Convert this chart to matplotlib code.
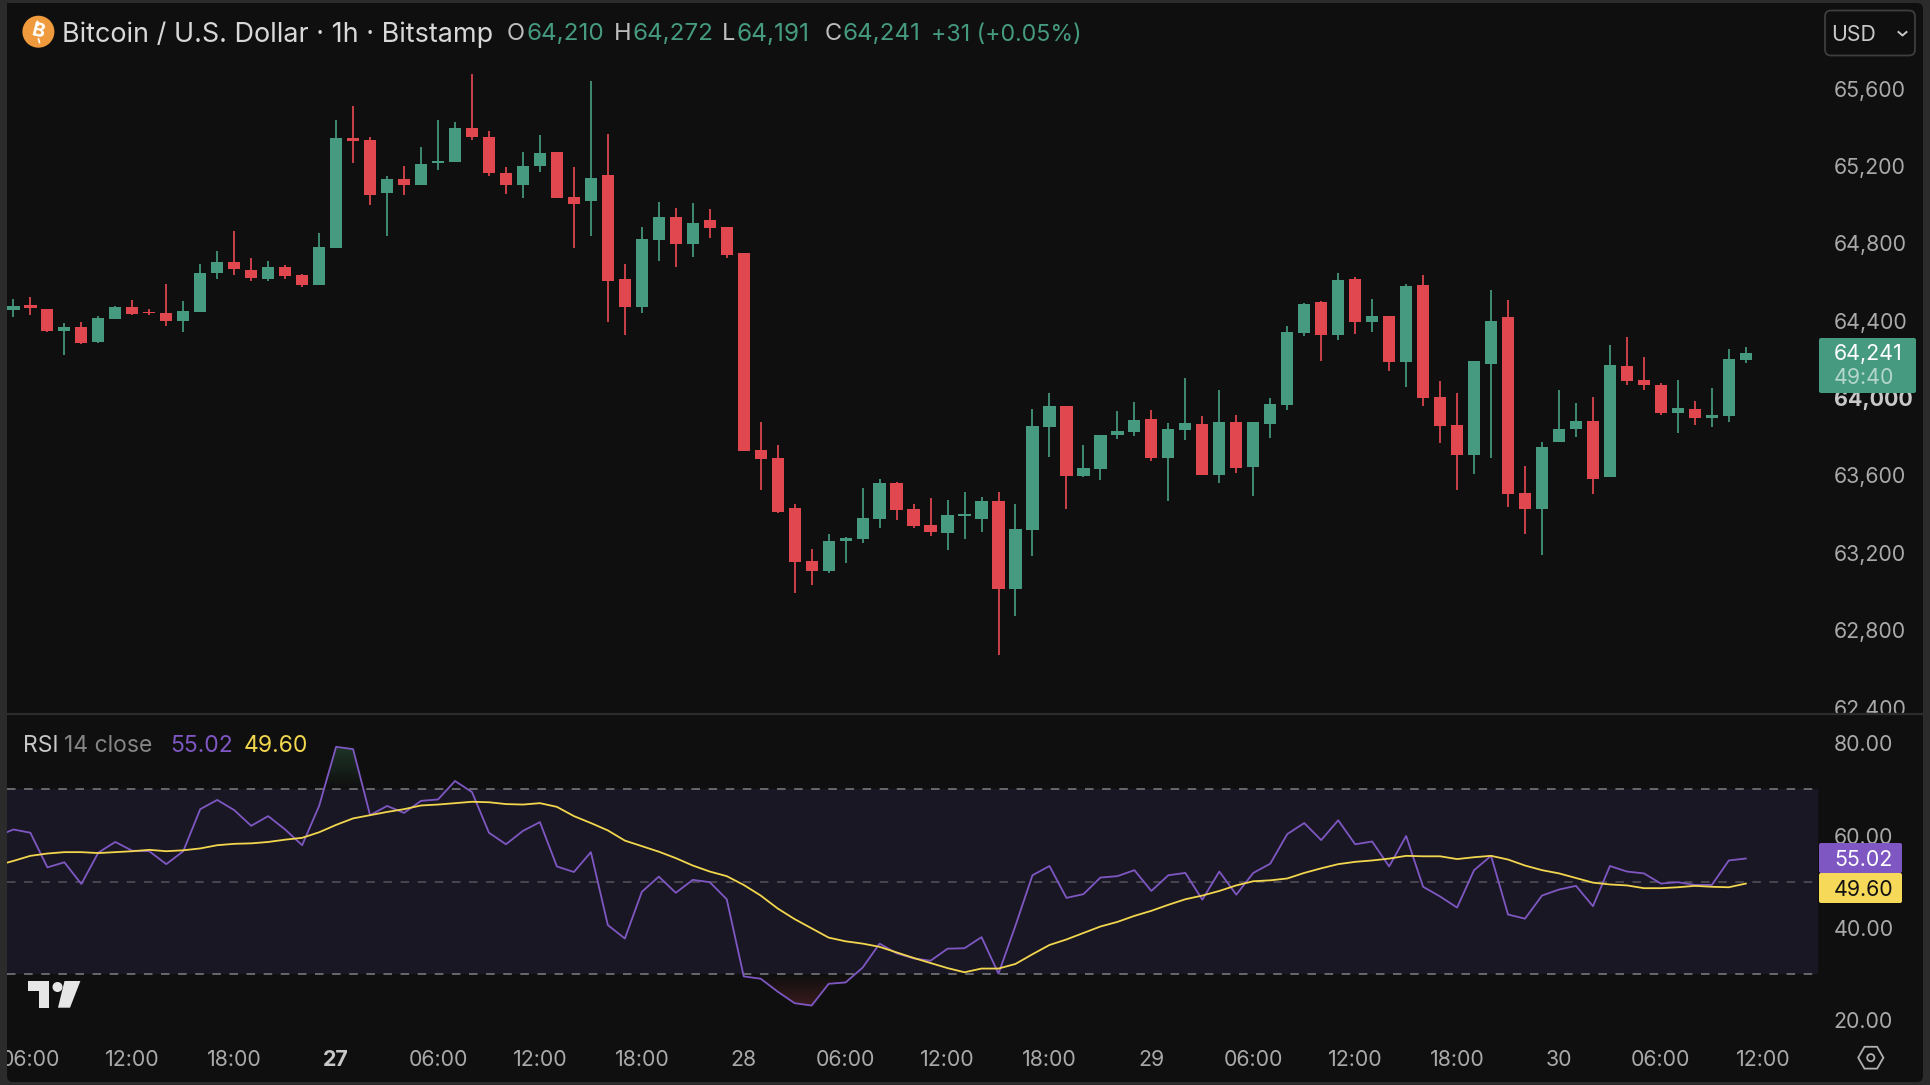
import numpy as np
import matplotlib
matplotlib.use('Agg')
import matplotlib.pyplot as plt
from matplotlib.colors import LinearSegmentedColormap
from matplotlib.patches import Circle, FancyBboxPatch, Polygon, RegularPolygon
from matplotlib.transforms import Bbox

plt.rcParams['font.family'] = ['Inter', 'DejaVu Sans']

W, H = 1930, 1085

# 1h candles (26th 05:00 to 30th 11:00)
opens = [64455, 64481, 64459, 64347, 64367, 64291, 64410, 64471, 64445, 64440, 64397, 64447, 64645,
         64703, 64662, 64617, 64676, 64634, 64586, 64777, 65342, 65332, 65062, 65132, 65103, 65217,
         65220, 65396, 65351, 65162, 65103, 65198, 65270, 65039, 65017, 65151, 64614, 64469, 64817,
         64938, 64795, 64920, 64884, 64748, 63730, 63688, 63430, 63158, 63106, 63259, 63273, 63377,
         63561, 63425, 63344, 63304, 63390, 63377, 63466, 63015, 63318, 63852, 63959, 63599, 63635,
         63811, 63826, 63892, 63690, 63835, 63864, 63604, 63878, 63645, 63866, 63966, 64338, 64495,
         64328, 64615, 64391, 64426, 64188, 64584, 64005, 63861, 63707, 64174, 64417, 63511, 63427,
         63775, 63838, 63881, 63590, 64167, 64092, 64067, 63921, 63942, 63899, 63907, 64197]
highs = [64512, 64522, 64459, 64386, 64395, 64422, 64476, 64509, 64459, 64590, 64500, 64693, 64762,
         64862, 64726, 64708, 64688, 64639, 64853, 65436, 65510, 65351, 65148, 65201, 65298, 65436,
         65429, 65673, 65379, 65193, 65274, 65360, 65270, 65193, 65641, 65365, 64693, 64884, 65015,
         64981, 65006, 64975, 64884, 64748, 63874, 63756, 63452, 63221, 63296, 63282, 63533, 63582,
         63566, 63452, 63485, 63471, 63513, 63489, 63513, 63452, 63943, 64024, 63959, 63756, 63811,
         63933, 63978, 63938, 63871, 64105, 63905, 64042, 63911, 63874, 64000, 64372, 64490, 64500,
         64648, 64626, 64510, 64426, 64590, 64636, 64086, 64028, 64192, 64557, 64507, 63647, 63771,
         64042, 63973, 64005, 64272, 64314, 64210, 64078, 64092, 63983, 64050, 64254, 64262]
lows = [64421, 64429, 64343, 64224, 64278, 64286, 64410, 64431, 64428, 64374, 64341, 64447, 64614,
        64636, 64607, 64607, 64617, 64572, 64586, 64777, 65217, 65000, 64839, 65048, 65103, 65179,
        65220, 65334, 65150, 65056, 65034, 65168, 65036, 64776, 64839, 64395, 64328, 64441, 64708,
        64676, 64731, 64829, 64726, 63725, 63526, 63408, 62991, 63035, 63096, 63146, 63249, 63327,
        63371, 63327, 63289, 63213, 63271, 63309, 62674, 62873, 63185, 63697, 63427, 63592, 63575,
        63788, 63802, 63676, 63466, 63785, 63604, 63563, 63613, 63495, 63794, 63938, 64319, 64193,
        64300, 64333, 64341, 64142, 64057, 63957, 63769, 63526, 63609, 63688, 63435, 63299, 63190,
        63775, 63799, 63504, 63590, 64069, 64043, 63911, 63821, 63861, 63849, 63878, 64183]
closes = [64476, 64464, 64347, 64367, 64286, 64414, 64471, 64436, 64438, 64397, 64450, 64648, 64703,
          64669, 64622, 64676, 64633, 64586, 64781, 65342, 65330, 65050, 65132, 65103, 65210, 65225,
          65396, 65348, 65162, 65103, 65201, 65268, 65036, 65005, 65137, 64605, 64469, 64820, 64938,
          64795, 64907, 64881, 64741, 63725, 63687, 63413, 63151, 63106, 63263, 63275, 63380, 63561,
          63423, 63340, 63309, 63394, 63399, 63466, 63015, 63321, 63856, 63959, 63599, 63637, 63811,
          63828, 63887, 63690, 63842, 63871, 63604, 63878, 63640, 63874, 63969, 64340, 64486, 64328,
          64612, 64393, 64426, 64188, 64579, 64002, 63857, 63707, 64192, 64398, 63504, 63427, 63747,
          63842, 63881, 63580, 64173, 64088, 64066, 63921, 63947, 63899, 63914, 64200, 64231]

# RSI and its average, first point is one bar before the first candle
rsi = [59.8, 61.3, 60.6, 53.1, 54.2, 49.5, 56.3, 58.6, 56.7, 56.6, 53.8, 56.6, 65.7, 67.7, 65.5, 62.1,
       64.2, 61.3, 57.9, 66.4, 79.2, 78.7, 64.4, 66.4, 64.9, 67.5, 67.8, 71.8, 69.4, 60.6, 58.1, 61.0,
       62.9, 53.3, 52.1, 56.4, 40.6, 37.7, 47.8, 51.1, 47.6, 50.4, 49.9, 46.2, 29.5, 29.0, 26.2, 23.7,
       23.2, 27.9, 28.2, 31.4, 36.6, 34.5, 33.4, 32.9, 35.5, 35.6, 38.0, 30.1, 40.5, 51.4, 53.4, 46.5,
       47.3, 50.9, 51.2, 52.5, 48.0, 51.4, 51.9, 46.1, 52.2, 47.2, 51.9, 53.9, 60.3, 62.7, 59.0, 63.3,
       58.1, 58.7, 53.3, 59.9, 48.9, 46.8, 44.4, 52.5, 55.6, 42.9, 42.0, 47.0, 48.3, 49.1, 44.7, 53.4,
       52.2, 51.8, 49.6, 49.9, 49.3, 49.3, 54.6, 55.02]
rsi_ma = [53.5, 54.5, 55.6, 56.1, 56.4, 56.4, 56.2, 56.4, 56.6, 56.9, 56.6, 56.8, 57.2, 57.9, 58.2,
          58.3, 58.6, 59.1, 59.5, 60.7, 62.3, 63.7, 64.4, 65.1, 65.7, 66.5, 66.7, 67.0, 67.3, 67.2,
          66.8, 66.7, 67.0, 66.2, 64.2, 62.7, 61.1, 58.9, 57.7, 56.5, 55.1, 53.5, 52.2, 51.2, 49.3,
          47.0, 44.2, 41.9, 39.9, 37.9, 37.1, 36.6, 35.9, 34.7, 33.5, 32.4, 31.3, 30.4, 31.2, 31.2,
          32.2, 34.3, 36.3, 37.5, 38.9, 40.3, 41.3, 42.6, 43.7, 45.0, 46.2, 47.0, 48.0, 49.2, 50.1,
          50.3, 50.7, 51.9, 52.9, 53.8, 54.3, 54.6, 55.0, 55.6, 55.5, 55.5, 54.9, 55.3, 55.6, 54.8,
          53.5, 52.5, 51.8, 50.8, 49.8, 49.4, 49.2, 48.6, 48.6, 48.8, 49.1, 48.9, 48.8, 49.60]

price_ticks = [62400, 62800, 63200, 63600, 64000, 64400, 64800, 65200, 65600]
rsi_ticks = [20, 40, 60, 80]
time_ticks = [1, 7, 13, 19, 25, 31, 37, 43, 49, 55, 61, 67, 73, 79, 85, 91, 97, 103]
time_labels = ['06:00', '12:00', '18:00', '27', '06:00', '12:00', '18:00', '28', '06:00',
               '12:00', '18:00', '29', '06:00', '12:00', '18:00', '30', '06:00', '12:00']

OUTER = '#2b2b2b'
PANEL = '#0f0f0f'
GREEN = '#459a80'
RED = '#e1474f'
PURPLE = '#7e57c2'
YELLOW = '#f2d64e'
BAND = '#1a1724'
AXIS_TEXT = '#a9a9a9'
TICK_SIZE = 15.4


def add_axes_px(left, top, right, bottom, **kw):
    return fig.add_axes([left / W, 1 - bottom / H, (right - left) / W, (bottom - top) / H], **kw)


fig = plt.figure(figsize=(W / 100, H / 100), dpi=100, facecolor=OUTER)

# panel behind everything
bg = add_axes_px(0, 0, W, H, zorder=-1)
bg.set_xlim(0, W)
bg.set_ylim(H, 0)
bg.axis('off')
bg.add_patch(FancyBboxPatch((11, 7), 1908, 1071, boxstyle='round,pad=4,rounding_size=6',
                            fc=PANEL, ec='none'))

x_left = -0.377
x_right = 106.25

# candles
ax = add_axes_px(7, 3, 1818, 714, facecolor=PANEL)
opens, highs, lows, closes = map(np.array, (opens, highs, lows, closes))
x = np.arange(len(opens))
colors = [GREEN if c >= o else RED for o, c in zip(opens, closes)]
ax.vlines(x, lows, highs, colors=colors, lw=1.25, zorder=2)
ax.bar(x, np.abs(closes - opens), bottom=np.minimum(opens, closes), width=0.72,
       color=colors, edgecolor='none', zorder=3)
ax.set_xlim(x_left, x_right)
ax.set_ylim(62367, 66042)
ax.set_xticks([])
ax.yaxis.tick_right()
ax.set_yticks(price_ticks)
ax.set_yticklabels([f'{p:,}' for p in price_ticks])
ax.tick_params(axis='y', length=0, pad=11.2, labelsize=TICK_SIZE, labelcolor=AXIS_TEXT)
price_clip = Bbox.from_extents(0, H - 714, W, H)
for lab, p in zip(ax.get_yticklabels(), price_ticks):
    lab.set_clip_on(True)
    lab.set_clip_box(price_clip)
    if p == 64000:
        lab.set_fontweight('bold')
        lab.set_color('#c8c8c8')
for s in ax.spines.values():
    s.set_visible(False)

# rsi pane
ax2 = add_axes_px(7, 714, 1818, 1035, facecolor=PANEL)
rsi = np.array(rsi)
rsi_ma = np.array(rsi_ma)
rsi_x = np.arange(-1, len(rsi) - 1)
ax2.axhspan(30, 70, color=BAND, lw=0, zorder=1)
ax2.axhline(70, color='#7f7e84', lw=1.1, ls=(0, (5.6, 5.6)), zorder=2)
ax2.axhline(50, color='#55535c', lw=1.1, ls=(0, (5.6, 5.6)), zorder=2)
ax2.axhline(30, color='#7f7e84', lw=1.1, ls=(0, (5.6, 5.6)), zorder=2)

# overbought / oversold gradient fills
grad = np.linspace(0, 1, 64).reshape(-1, 1)
cmap_up = LinearSegmentedColormap.from_list('up', [PANEL, '#20382a'])
cmap_dn = LinearSegmentedColormap.from_list('dn', ['#401d1f', PANEL])
fill_up = ax2.fill_between(rsi_x, rsi, 70, where=rsi > 70, interpolate=True, color='none')
fill_dn = ax2.fill_between(rsi_x, rsi, 30, where=rsi < 30, interpolate=True, color='none')
for path in fill_up.get_paths():
    im = ax2.imshow(grad, extent=[x_left, x_right, 70, 80], origin='lower', aspect='auto',
                    cmap=cmap_up, zorder=1.5)
    im.set_clip_path(path, ax2.transData)
for path in fill_dn.get_paths():
    im = ax2.imshow(grad, extent=[x_left, x_right, 22, 30], origin='lower', aspect='auto',
                    cmap=cmap_dn, zorder=1.5)
    im.set_clip_path(path, ax2.transData)

ax2.plot(rsi_x, rsi, color=PURPLE, lw=1.3, zorder=3)
ax2.plot(rsi_x, rsi_ma, color=YELLOW, lw=1.3, zorder=4)
ax2.set_xlim(x_left, x_right)
ax2.set_ylim(16.82, 86.3)
ax2.yaxis.tick_right()
ax2.set_yticks(rsi_ticks)
ax2.set_yticklabels([f'{v:.2f}' for v in rsi_ticks])
ax2.tick_params(axis='y', length=0, pad=11.2, labelsize=TICK_SIZE, labelcolor=AXIS_TEXT)
ax2.set_xticks(time_ticks)
ax2.set_xticklabels(time_labels)
ax2.tick_params(axis='x', length=0, pad=11, labelsize=TICK_SIZE, labelcolor=AXIS_TEXT)
time_clip = Bbox.from_extents(7, 0, W, H)
for lab, t in zip(ax2.get_xticklabels(), time_labels):
    lab.set_clip_on(True)
    lab.set_clip_box(time_clip)
    if t == '27':
        lab.set_fontweight('bold')
        lab.set_color('#c8c8c8')
for s in ax2.spines.values():
    s.set_visible(False)

# everything on top, in pixels
ov = add_axes_px(0, 0, W, H, zorder=5)
ov.set_xlim(0, W)
ov.set_ylim(H, 0)
ov.axis('off')
ov.patch.set_alpha(0)

ov.plot([7, 1923], [714, 714], color='#2c2c2c', lw=1.6)

# title row
ov.add_patch(Circle((38.4, 31.7), 16, fc='#ef9a3c', ec='none'))
ov.text(38.4, 32, 'B', color='white', fontsize=14, fontweight='bold', rotation=-14,
        ha='center', va='center')
ov.plot([37.5, 38.5], [21.5, 25], color='white', lw=1.2)
ov.plot([38.5, 39.5], [39, 42.5], color='white', lw=1.2)
ov.text(62, 34.5, 'Bitcoin / U.S. Dollar · 1h · Bitstamp', color='#d8d8d8', fontsize=19.45,
        va='center')
ohlc_parts = [(507, 'O', '#bdbdbd', 17), (526, '64,210', GREEN, 17.4), (614, 'H', '#bdbdbd', 17),
              (633, '64,272', GREEN, 17.4), (722, 'L', '#bdbdbd', 17), (736, '64,191', GREEN, 17.6),
              (825, 'C', '#bdbdbd', 17), (842, '64,241', GREEN, 17.4), (931, '+31 (+0.05%)', GREEN, 16.7)]
for px, part, col, size in ohlc_parts:
    ov.text(px, 34.5, part, color=col, fontsize=size, va='center')

# currency selector
ov.add_patch(FancyBboxPatch((1830, 15.5), 80, 35, boxstyle='round,pad=5,rounding_size=6',
                            fc='none', ec='#3e3e3e', lw=1.3))
ov.text(1831.5, 35, 'USD', color='#c8c8c8', fontsize=15.3, va='center')
ov.plot([1898.5, 1902.5, 1906.5], [32, 35.5, 32], color='#c8c8c8', lw=1.4)

# price badge
ov.add_patch(FancyBboxPatch((1821, 340), 93, 51, boxstyle='round,pad=2,rounding_size=2',
                            fc=GREEN, ec='none'))
ov.text(1834, 354, '64,241', color='white', fontsize=TICK_SIZE, va='center')
ov.text(1834, 378.5, '49:40', color='#b4d6cb', fontsize=TICK_SIZE, va='center')

# rsi badges
ov.add_patch(FancyBboxPatch((1821, 845), 79, 26, boxstyle='round,pad=2,rounding_size=2',
                            fc=PURPLE, ec='none'))
ov.text(1834, 859.5, '55.02', color='white', fontsize=TICK_SIZE, va='center')
ov.add_patch(FancyBboxPatch((1821, 875), 79, 26, boxstyle='round,pad=2,rounding_size=2',
                            fc='#f7d95a', ec='none'))
ov.text(1834, 890, '49.60', color='#111111', fontsize=TICK_SIZE, va='center')

# indicator legend
rsi_parts = [(23, 'RSI', '#c8c8c8'), (64, '14 close', '#858585'), (170, '55.02', PURPLE), (243.5, '49.60', YELLOW)]
for px, part, col in rsi_parts:
    ov.text(px, 746, part, color=col, fontsize=16.5, va='center')

# tradingview logo
logo = '#e6e6e6'
ov.add_patch(Polygon([(27.8, 981), (49, 981), (49, 1007.7), (38.7, 1007.7), (38.7, 991), (27.8, 991)],
                     fc=logo, ec='none'))
ov.add_patch(Circle((57.5, 987), 5, fc=logo, ec='none'))
ov.add_patch(Polygon([(64.5, 981), (80.4, 981), (70, 1007.7), (58, 1007.7)], fc=logo, ec='none'))

# settings icon
ov.add_patch(RegularPolygon((1870.8, 1057.7), 6, radius=12.6, orientation=np.pi / 6, fc='none',
                            ec='#b0b0b0', lw=1.3))
ov.add_patch(Circle((1870.8, 1057.7), 3.6, fc='none', ec='#b0b0b0', lw=1.3))

fig.savefig('out.png', dpi=100, facecolor=OUTER)
